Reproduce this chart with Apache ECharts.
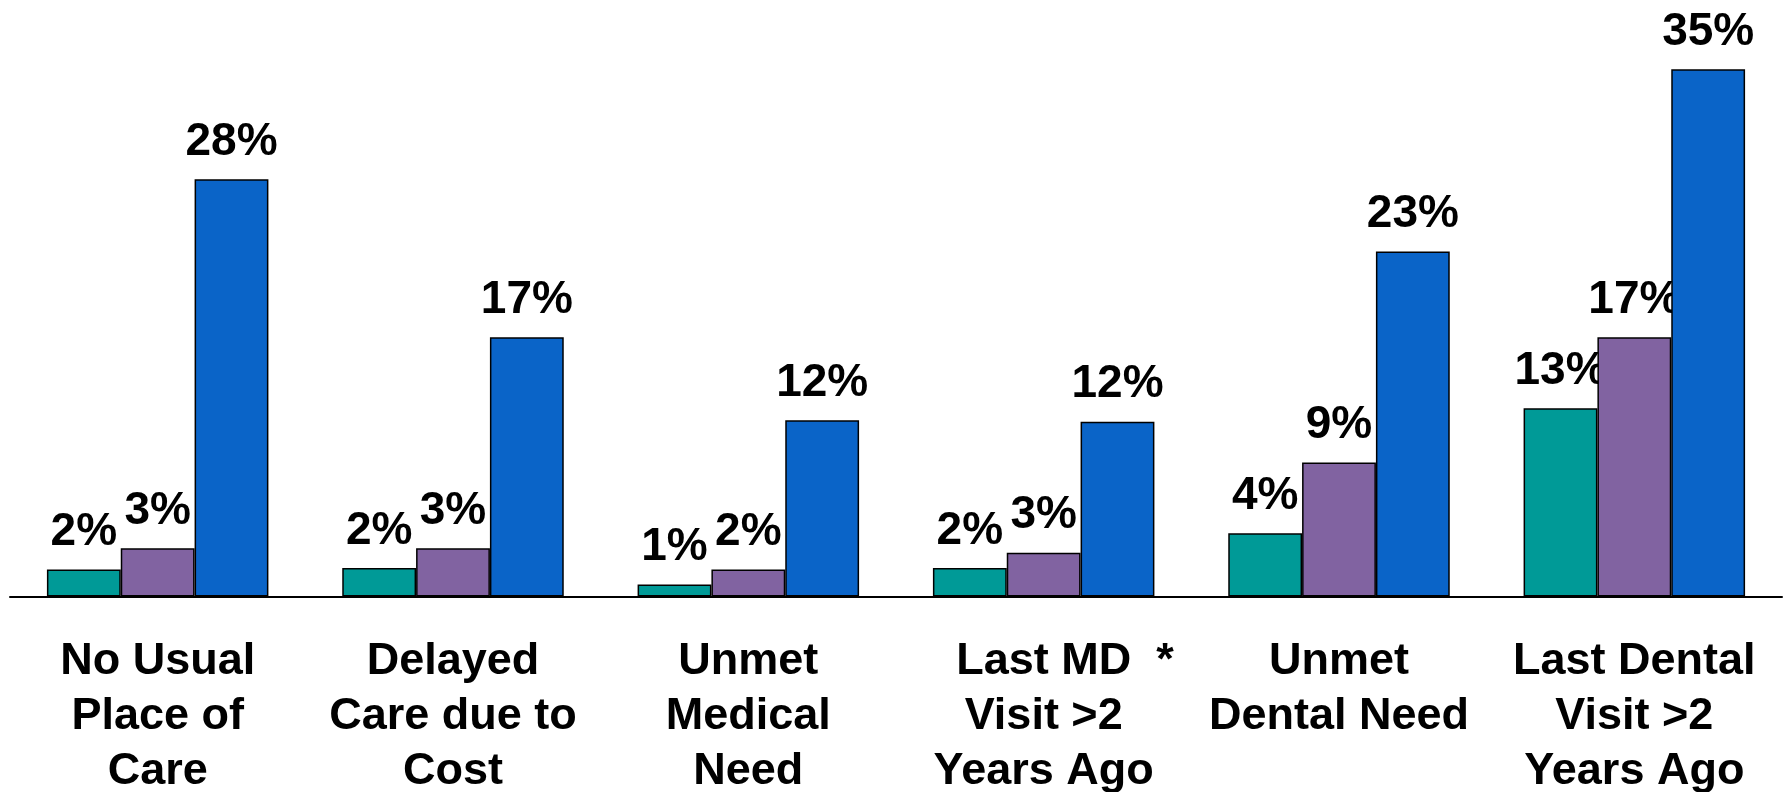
<!DOCTYPE html>
<html>
<head>
<meta charset="utf-8">
<title>Access to care</title>
<script src="https://cdn.jsdelivr.net/npm/echarts@6/dist/echarts.min.js"></script>
<style>
    html, body {
        margin: 0;
        padding: 0;
        background: #fff;
    }

    #chart {
        width: 1785px;
        height: 792px;
    }
</style>
</head>
<body>
<div id="chart"></div>
<script>
    // categories (the * on "Last MD" is a footnote mark)
    var categories = [
        'No Usual\nPlace of\nCare',
        'Delayed\nCare due to\nCost',
        'Unmet\nMedical\nNeed',
        'Last MD  *\nVisit >2\nYears Ago',
        'Unmet\nDental Need',
        'Last Dental\nVisit >2\nYears Ago'
    ];
    // three groups, values in percent
    var groupA = [1.8, 1.9, 0.8, 1.9, 4.2, 12.5];
    var groupB = [3.2, 3.2, 1.8, 2.9, 8.9, 17.2];
    var groupC = [27.7, 17.2, 11.7, 11.6, 22.9, 35];

    var colors = ['#009a97', '#8163a1', '#0a64c8'];
    var font = "'Liberation Sans', Arial, sans-serif";

    var myChart = echarts.init(document.getElementById('chart'));

    function makeSeries(name, data, i) {
        return {
            name: name,
            type: 'bar',
            z: 2 + i,
            data: data,
            barGap: '0%',
            barCategoryGap: '25%',
            itemStyle: {
                color: colors[i],
                borderColor: '#000',
                borderWidth: 1.5
            },
            label: {
                show: true,
                position: 'top',
                distance: 14,
                color: '#000',
                fontSize: 46,
                fontWeight: 'bold',
                fontFamily: font,
                formatter: function (p) {
                    return Math.round(p.value) + '%';
                }
            }
        };
    }

    var option = {
        backgroundColor: '#fff',
        animation: false,
        grid: {
            left: 10,
            right: 3,
            top: 24,
            bottom: 195.5,
            outerBoundsMode: 'none',
            containLabel: false
        },
        xAxis: {
            type: 'category',
            data: categories,
            axisLine: {
                show: true,
                lineStyle: {color: '#000', width: 2}
            },
            axisTick: {show: false},
            axisLabel: {
                interval: 0,
                margin: 38,
                color: '#000',
                fontSize: 45,
                fontWeight: 'bold',
                fontFamily: font,
                lineHeight: 55,
                formatter: function (val) {
                    var lines = val.split('\n');
                    if (lines[0].indexOf('*') > -1) {
                        // keep "Last MD" centred, star hangs to the right
                        lines[0] = '{h|  *}' + lines[0];
                    }
                    return lines.join('\n');
                },
                rich: {
                    h: {
                        color: 'transparent',
                        fontSize: 45,
                        fontWeight: 'bold',
                        fontFamily: font,
                        lineHeight: 55
                    }
                }
            }
        },
        yAxis: {
            type: 'value',
            show: false,
            min: 0,
            max: 38
        },
        series: [
            makeSeries('A', groupA, 0),
            makeSeries('B', groupB, 1),
            makeSeries('C', groupC, 2)
        ]
    };

    myChart.setOption(option);
</script>
</body>
</html>
